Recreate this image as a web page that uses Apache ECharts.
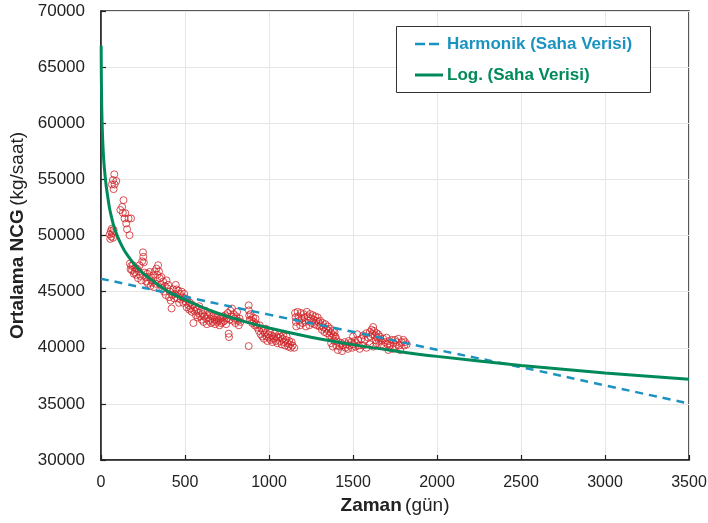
<!DOCTYPE html>
<html><head><meta charset="utf-8">
<script src="https://cdn.jsdelivr.net/npm/echarts@6/dist/echarts.min.js"></script>
<style>html,body{margin:0;padding:0;background:#fff}#c{width:708px;height:523px}</style>
</head><body><div id="c"></div>
<script>
// Axis settings
const xMin = 0, xMax = 3500, xStep = 500;
const yMin = 30000, yMax = 70000, yStep = 5000;

// Field data (Zaman in gün, Ortalama NCG in kg/saat)
const fieldData = [
 [52,50100],[55,49700],[58,50400],[62,49900],[65,50600],[68,50200],[72,49800],[75,50500],
 [79,55450],[71,54940],[91,54850],[65,54550],[81,54550],[75,54130],
 [134,53150],[126,52550],[130,52020],[140,51520],[150,51070],[164,51520],[179,51520],[155,50560],[170,50030],[115,52280],[145,51990],
 [172,47500],[176,47000],[180,47300],[185,46900],[190,47350],[195,46600],[200,46750],[205,47100],[210,46500],[215,47050],
 [220,46200],[225,46800],[230,47350],[235,46400],[240,46000],[245,47700],[250,48500],[252,48100],[255,47600],[260,46700],
 [265,46300],[270,45900],[275,46600],[280,45700],[285,46300],[290,46750],[295,45500],[300,46000],[305,45800],[310,46450],
 [315,45400],[320,46800],[325,45700],[330,47050],[335,46500],[340,47350],[345,46800],[350,46200],[355,45600],[360,46300],
 [365,45300],[370,45900],[375,45000],[380,45500],[385,44700],[390,46000],[395,45300],[400,45600],[405,44500],[410,45000],
 [415,44200],[420,43500],[425,44700],[430,45200],[435,44400],[440,44800],[445,45600],[450,45200],[455,44400],[460,45100],
 [465,44000],[470,44800],[475,44300],[480,45000],[485,44500],[490,44000],[495,44800],[500,44400],
 [505,44100],[510,43600],[515,44300],[520,43800],[525,43400],[530,44000],[535,43500],[540,43200],[545,43800],[550,42200],
 [555,43300],[560,43600],[565,42900],[570,43400],[575,42700],[580,43100],[585,43700],[590,42800],[595,43300],[600,42500],
 [605,43000],[610,42300],[615,42800],[620,43300],[625,42600],[630,42100],[635,42900],[640,42400],[645,43100],[650,42600],
 [655,42200],[660,42800],[665,42300],[670,42900],[675,42500],[680,42100],[685,42700],[690,42300],[695,42800],[700,42400],
 [705,42000],[710,42600],[715,42200],[720,42700],[725,42300],[730,42800],[735,42400],[740,42900],[745,42100],[750,42600],
 [755,43100],[760,41250],[762,40950],[765,42500],[770,43300],[775,42800],[780,43500],[785,42400],[790,43000],[795,42600],
 [800,42200],[805,42800],[810,43200],[815,42400],[820,42000],[825,42600],[830,42300],
 [879,43780],[880,43330],[882,42890],[885,42450],[879,40150],[890,43000],[895,42500],[900,42200],[905,42700],[910,42300],
 [915,42000],[920,42600],[925,42100],
 [930,41800],[940,41500],[945,42000],[950,41200],[955,41700],[960,41000],[965,41500],[970,40800],[975,41300],[980,41700],
 [985,41000],[990,40600],[995,41200],[1000,40900],[1005,41400],[1010,40700],[1015,41100],[1020,40500],[1025,41000],[1030,40800],
 [1035,41300],[1040,40600],[1045,41000],[1050,40400],[1055,40900],[1060,41200],[1065,40600],[1070,41000],[1075,40300],[1080,40800],
 [1085,41100],[1090,40500],[1095,40200],[1100,40700],[1105,41000],[1110,40400],[1115,40100],[1120,40600],[1125,40300],[1130,40000],
 [1135,40500],[1140,40200],[1150,40000],
 [1155,43100],[1158,42700],[1160,42300],[1162,41900],[1170,43200],[1175,42800],[1180,42400],[1185,42000],[1190,43100],[1195,42600],
 [1200,42200],[1205,43000],[1210,42700],[1215,42300],[1220,41900],[1225,43200],[1230,42800],[1235,42400],[1240,42000],[1245,43000],
 [1250,42600],[1255,42200],[1260,42900],[1265,42500],[1270,42100],[1275,42800],[1280,42400],[1285,42000],[1290,42700],[1295,42300],
 [1300,41900],
 [1305,42400],[1310,42000],[1315,41600],[1320,42200],[1325,41800],[1330,41400],[1335,42100],[1340,41700],[1345,41300],[1350,41900],
 [1355,41500],[1360,41100],[1365,41700],[1370,41300],[1375,40900],[1380,41500],[1385,41100],[1390,41400],[1395,41000],[1400,40800],
 [1370,40400],[1380,40100],[1390,40600],[1400,40200],[1410,39800],[1415,40500],[1420,40100],[1430,40400],[1435,39700],[1440,40200],
 [1450,40500],[1455,40000],[1460,40300],[1470,39900],[1475,40600],[1480,40200],[1490,40500],[1495,40000],[1500,40300],[1510,40600],
 [1515,40100],[1520,40400],[1530,40700],[1535,40200],[1540,39900],[1525,41200],[1500,41000],
 [1550,40800],[1560,41100],[1570,40700],[1580,41300],[1590,40900],[1600,41400],[1605,41000],[1610,41600],[1615,41200],[1620,41850],
 [1625,41500],[1630,41100],[1635,40700],[1640,41300],[1645,40900],[1650,41200],[1655,40600],[1660,41000],
 [1560,40200],[1580,40000],[1600,40300],[1620,40100],[1640,40400],
 [1665,40700],[1670,40300],[1680,40800],[1685,40100],[1690,40500],[1700,40900],[1705,40300],[1710,39800],[1715,40600],[1720,40200],
 [1730,40700],[1735,39900],[1740,40400],[1750,40700],[1755,40100],[1760,40500],[1770,40800],[1775,40200],[1780,39800],[1790,40500],
 [1800,40700],[1805,40200],[1810,40500],[1820,40300]
];

// Harmonic trend
const harmonicT = [0,500,1000,1500,2000,2500,3000,3500];
const harmonicV = [46150,44550,42950,41420,39820,38270,36650,35030];

// Logarithmic trend
const logT = [1,2,3,4,5,7,10,15,20,30,40,50,60,75,100,125,150,200,250,300,400,500,600,700,850,1000,1250,1500,1750,2000,2500,3000,3500];
const logV = [66900,64377,62901,61854,61042,59817,58518,57043,55995,54519,53472,52500,51800,50900,49850,49050,48400,47400,46650,46050,45000,44278,43615,43054,42348,41756,40944,40279,39720,39232,38420,37758,37194];

const names = ['Harmonik (Saha Verisi)', 'Log. (Saha Verisi)'];
const harmColor = '#1b93c0', logColor = '#008a5a', ptColor = '#d02428';
const font = '"Liberation Sans", Arial, sans-serif';

const nameRich = {
  b: {fontFamily: font, fontSize: 19, fontWeight: 'bold', color: '#222'},
  n: {fontFamily: font, fontSize: 19, color: '#222'}
};

const chart = echarts.init(document.getElementById('c'), null, {renderer: 'canvas'});
chart.setOption({
  animation: false,
  backgroundColor: '#fff',
  grid: {left: 101, right: 19, top: 11, bottom: 63, containLabel: false, outerBoundsMode: 'none',
         show: true, borderColor: '#222', borderWidth: 1.5, backgroundColor: 'transparent'},
  xAxis: {
    type: 'value', min: xMin, max: xMax, interval: xStep,
    name: '{b|Zaman} {n|(gün)}', nameLocation: 'middle', nameGap: 31,
    nameTextStyle: {rich: nameRich},
    axisLine: {show: true, lineStyle: {color: '#222', width: 1.5}},
    axisTick: {show: true, inside: true, length: 5, lineStyle: {color: '#222', width: 1.2}},
    axisLabel: {fontFamily: font, fontSize: 16, color: '#222', margin: 15, formatter: v => String(v)},
    splitLine: {show: true, lineStyle: {color: '#e6e6e6', width: 1}}
  },
  yAxis: {
    type: 'value', min: yMin, max: yMax, interval: yStep,
    name: '{b|Ortalama NCG} {n|(kg/saat)}', nameLocation: 'middle', nameGap: 70,
    nameTextStyle: {rich: nameRich},
    axisLine: {show: true, lineStyle: {color: '#222', width: 1.5}},
    axisTick: {show: true, inside: true, length: 5, lineStyle: {color: '#222', width: 1.2}},
    axisLabel: {fontFamily: font, fontSize: 17, color: '#222', margin: 16, formatter: v => String(v)},
    splitLine: {show: true, lineStyle: {color: '#e6e6e6', width: 1}}
  },
  graphic: [
    {type: 'rect', z: 5, shape: {x: 396.5, y: 26.5, width: 254, height: 66},
     style: {fill: '#fff', stroke: '#333', lineWidth: 1}},
    {type: 'line', z: 6, shape: {x1: 415, y1: 44, x2: 439, y2: 44},
     style: {stroke: harmColor, lineWidth: 2.5, lineDash: [10, 4]}},
    {type: 'text', z: 6, x: 447, y: 44,
     style: {text: names[0], fill: harmColor, font: 'bold 17px ' + font, verticalAlign: 'middle'}},
    {type: 'line', z: 6, shape: {x1: 415, y1: 75, x2: 443, y2: 75},
     style: {stroke: logColor, lineWidth: 3}},
    {type: 'text', z: 6, x: 447, y: 75,
     style: {text: names[1], fill: logColor, font: 'bold 17px ' + font, verticalAlign: 'middle'}}
  ],
  series: [
    {
      type: 'scatter', name: 'Saha', data: fieldData, symbol: 'circle', symbolSize: 7, z: 2,
      itemStyle: {color: 'transparent', borderColor: ptColor, borderWidth: 1}
    },
    {
      type: 'line', name: names[0], data: harmonicT.map((t, i) => [t, harmonicV[i]]),
      symbol: 'none', smooth: true, z: 3,
      lineStyle: {color: harmColor, width: 2.5, type: [8, 6]}
    },
    {
      type: 'line', name: names[1], data: logT.map((t, i) => [t, logV[i]]),
      symbol: 'none', smooth: 0.3, z: 4,
      lineStyle: {color: logColor, width: 3}
    }
  ]
});
</script>
</body></html>
